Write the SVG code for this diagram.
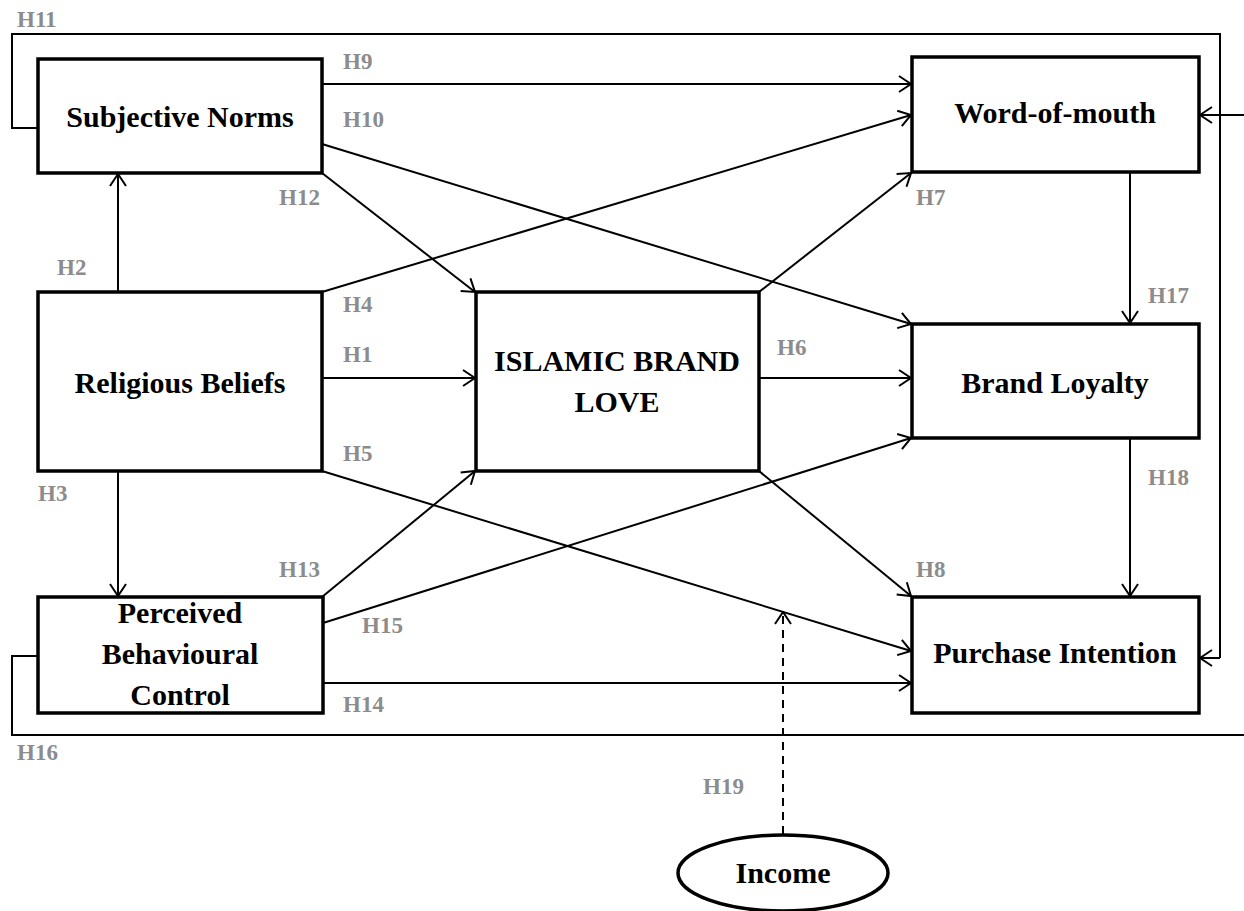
<svg xmlns="http://www.w3.org/2000/svg" width="1244" height="911" viewBox="0 0 1244 911">
<defs>
<marker id="arr" markerUnits="userSpaceOnUse" viewBox="0 0 14 18" refX="13" refY="9" markerWidth="14" markerHeight="18" orient="auto">
<path d="M1,1 L13,9 L1,17" fill="none" stroke="#000" stroke-width="2"/>
</marker>
<style>
.box{fill:#fff;stroke:#000;stroke-width:3.5}
.nt{font-family:"Liberation Serif",serif;font-weight:bold;font-size:30px;fill:#000;text-anchor:middle}
.lb{font-family:"Liberation Serif",serif;font-weight:bold;font-size:23px;fill:#8c8c8c}
.ln{fill:none;stroke:#000;stroke-width:2}
.ar{fill:none;stroke:#000;stroke-width:2;marker-end:url(#arr)}
</style>
</defs>
<rect width="1244" height="911" fill="#fff"/>
<g id="connectors">
<polyline class="ln" points="38,128 12,128 12,34 1220,34 1220,658"/>
<line class="ar" x1="1220" y1="658" x2="1200" y2="658"/>
<polyline class="ln" points="38,656 12,656 12,735 1244,735"/>
<line class="ar" x1="1244" y1="115" x2="1200" y2="115"/>
<line class="ar" x1="322" y1="84" x2="911" y2="84"/>
<line class="ar" x1="322" y1="144" x2="911" y2="324"/>
<line class="ar" x1="322" y1="173" x2="475" y2="292"/>
<line class="ar" x1="118" y1="292" x2="118" y2="174"/>
<line class="ar" x1="118" y1="471" x2="118" y2="596"/>
<line class="ar" x1="322" y1="292" x2="911" y2="115"/>
<line class="ar" x1="322" y1="378" x2="475" y2="378"/>
<line class="ar" x1="322" y1="471" x2="911" y2="651"/>
<line class="ar" x1="322" y1="597" x2="475" y2="471"/>
<line class="ar" x1="323" y1="623" x2="911" y2="438"/>
<line class="ar" x1="323" y1="683" x2="911" y2="683"/>
<line class="ar" x1="759" y1="378" x2="911" y2="378"/>
<line class="ar" x1="759" y1="292" x2="911" y2="173"/>
<line class="ar" x1="759" y1="471" x2="911" y2="596"/>
<line class="ar" x1="1130" y1="172" x2="1130" y2="323"/>
<line class="ar" x1="1130" y1="438" x2="1130" y2="596"/>
<line class="ar" x1="783" y1="834" x2="783" y2="612" stroke-dasharray="8,6"/>
</g>
<g id="subjective-norms">
<rect class="box" x="38" y="59" width="284" height="114"/>
<text class="nt" x="180" y="127">Subjective Norms</text>
</g>
<g id="religious-beliefs">
<rect class="box" x="38" y="292" width="284" height="179"/>
<text class="nt" x="180" y="393">Religious Beliefs</text>
</g>
<g id="perceived-behavioural-control">
<rect class="box" x="38" y="597" width="285" height="116"/>
<text class="nt" x="180" y="623">Perceived</text>
<text class="nt" x="180" y="664">Behavioural</text>
<text class="nt" x="180" y="705">Control</text>
</g>
<g id="islamic-brand-love">
<rect class="box" x="476" y="292" width="283" height="179"/>
<text class="nt" x="617" y="371">ISLAMIC BRAND</text>
<text class="nt" x="617" y="412">LOVE</text>
</g>
<g id="word-of-mouth">
<rect class="box" x="912" y="57" width="287" height="115"/>
<text class="nt" x="1055" y="123">Word-of-mouth</text>
</g>
<g id="brand-loyalty">
<rect class="box" x="912" y="324" width="287" height="114"/>
<text class="nt" x="1055" y="393">Brand Loyalty</text>
</g>
<g id="purchase-intention">
<rect class="box" x="912" y="597" width="287" height="116"/>
<text class="nt" x="1055" y="663">Purchase Intention</text>
</g>
<g id="income">
<ellipse cx="783" cy="873" rx="105" ry="38" fill="#fff" stroke="#000" stroke-width="3.5"/>
<text class="nt" x="783" y="883">Income</text>
</g>
<g id="labels">
<text class="lb" x="17" y="27">H11</text>
<text class="lb" x="343" y="69">H9</text>
<text class="lb" x="343" y="127">H10</text>
<text class="lb" x="279" y="205">H12</text>
<text class="lb" x="57" y="275">H2</text>
<text class="lb" x="343" y="312">H4</text>
<text class="lb" x="343" y="362">H1</text>
<text class="lb" x="343" y="461">H5</text>
<text class="lb" x="777" y="355">H6</text>
<text class="lb" x="916" y="205">H7</text>
<text class="lb" x="1148" y="303">H17</text>
<text class="lb" x="1148" y="485">H18</text>
<text class="lb" x="38" y="501">H3</text>
<text class="lb" x="279" y="577">H13</text>
<text class="lb" x="916" y="577">H8</text>
<text class="lb" x="362" y="633">H15</text>
<text class="lb" x="343" y="712">H14</text>
<text class="lb" x="17" y="760">H16</text>
<text class="lb" x="703" y="794">H19</text>
</g>
</svg>
